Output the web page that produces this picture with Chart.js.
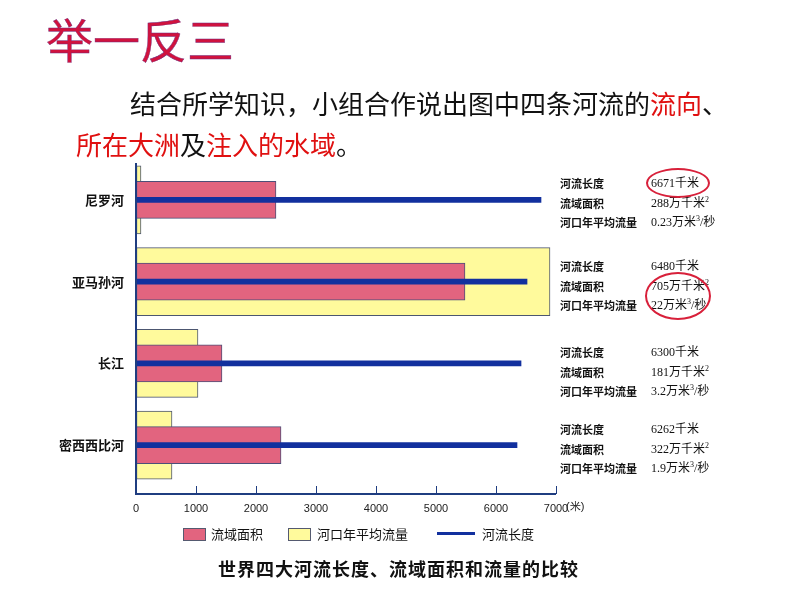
<!DOCTYPE html>
<html>
<head>
<meta charset="utf-8">
<script src="https://cdn.jsdelivr.net/npm/chart.js@4.4.1/dist/chart.umd.min.js"></script>
<style>
  html, body { margin: 0; padding: 0; background: #fff; }
  #wrap { position: relative; width: 794px; height: 596px; overflow: hidden; font-family: "Noto Sans CJK SC", sans-serif; }
  #chart { position: absolute; left: 0; top: 0; }
  .abs { position: absolute; white-space: nowrap; }
  .title { left: 46px; top: 8px; font-size: 47px; line-height: 60px; color: #d0123e; -webkit-text-stroke: 0.4px #6b2c7e; }
  .line { font-size: 26px; line-height: 34px; color: #111; }
  .red { color: #e01010; }
  .info { font-size: 11px; line-height: 16px; font-weight: bold; color: #111; }
  .val { font-family: "Liberation Serif", "Noto Sans CJK SC", serif; font-size: 12px; font-weight: normal; }
  .val sup { font-size: 8px; line-height: 0; }
  .ring { position: absolute; border: 2px solid #d8203a; border-radius: 50%; }
  .legend { font-size: 13px; line-height: 16px; color: #111; }
  .box { position: absolute; border: 1px solid #555a70; box-sizing: border-box; }
  .caption { left: 218px; top: 556px; font-size: 18px; line-height: 24px; font-weight: bold; letter-spacing: 1px; color: #111; }
</style>
</head>
<body>
<div id="wrap">
  <canvas id="chart" width="794" height="596"></canvas>
  <div class="abs title">举一反三</div>
  <div class="abs line" style="left:130px;top:86px;">结合所学知识，小组合作说出图中四条河流的<span class="red">流向</span>、</div>
  <div class="abs line" style="left:76px;top:127px;"><span class="red">所在大洲</span>及<span class="red">注入的水域</span>。</div>
  <div id="notes"></div>
  <div class="ring" style="left:646px;top:168px;width:60px;height:26px;"></div>
  <div class="ring" style="left:645px;top:272px;width:62px;height:44px;"></div>
  <div class="abs" style="left:566px;top:499px;font-family:'Liberation Sans Narrow','Liberation Sans',sans-serif;font-size:11px;line-height:14px;color:#222;">(米)</div>

  <div class="box" style="left:183px;top:528px;width:23px;height:13px;background:#e2647f;"></div>
  <div class="abs legend" style="left:211px;top:526px;">流域面积</div>
  <div class="box" style="left:288px;top:528px;width:23px;height:13px;background:#fffa9c;"></div>
  <div class="abs legend" style="left:317px;top:526px;">河口年平均流量</div>
  <div class="abs" style="left:437px;top:532px;width:38px;height:3px;background:#12309e;"></div>
  <div class="abs legend" style="left:482px;top:526px;">河流长度</div>
  <div class="abs caption">世界四大河流长度、流域面积和流量的比较</div>
</div>
<script>
const rivers = ['尼罗河', '亚马孙河', '长江', '密西西比河'];
const flowBars = [83, 6900, 1033, 600];
const areaBars = [2333, 5483, 1433, 2417];
const lengthBars = [6750, 6517, 6417, 6350];

const lengthText = ['6671', '6480', '6300', '6262'];
const areaText = ['288', '705', '181', '322'];
const flowText = ['0.23', '22', '3.2', '1.9'];

// top of each note block, in page pixels
const noteTops = [175, 258, 344, 421];

const notes = document.getElementById('notes');
rivers.forEach((r, i) => {
  const rows = [
    ['河流长度', `${lengthText[i]}千米`],
    ['流域面积', `${areaText[i]}万千米<sup>2</sup>`],
    ['河口年平均流量', `${flowText[i]}万米<sup>3</sup>/秒`]
  ];
  rows.forEach((row, j) => {
    const top = noteTops[i] + j * 19.5;
    notes.insertAdjacentHTML('beforeend',
      `<div class="abs info" style="left:560px;top:${top}px;">${row[0]}</div>` +
      `<div class="abs info val" style="left:651px;top:${top}px;">${row[1]}</div>`);
  });
});

const axisLines = {
  id: 'axisLines',
  afterDraw(chart) {
    const { ctx, chartArea, scales: { x } } = chart;
    ctx.save();
    ctx.strokeStyle = '#1f3d80';
    ctx.lineWidth = 2;
    ctx.beginPath();
    ctx.moveTo(chartArea.left, chartArea.top + 4);
    ctx.lineTo(chartArea.left, chartArea.bottom + 8);
    ctx.lineTo(x.getPixelForValue(7000), chartArea.bottom + 8);
    ctx.stroke();
    ctx.restore();
  }
};

new Chart(document.getElementById('chart'), {
  type: 'bar',
  data: {
    labels: rivers,
    datasets: [
      {
        label: '河流长度',
        data: lengthBars,
        backgroundColor: '#12309e',
        borderWidth: 0,
        barThickness: 5,
        order: 0
      },
      {
        label: '流域面积',
        data: areaBars,
        backgroundColor: '#e2647f',
        borderColor: '#4c4f78',
        borderWidth: 1,
        borderSkipped: false,
        barThickness: 37,
        order: 1
      },
      {
        label: '河口年平均流量',
        data: flowBars,
        backgroundColor: '#fffa9c',
        borderColor: '#4c5670',
        borderWidth: 1,
        borderSkipped: false,
        barThickness: 68,
        order: 2
      }
    ]
  },
  options: {
    indexAxis: 'y',
    responsive: false,
    animation: false,
    layout: { padding: { top: 159, right: 238, bottom: 80, left: 56 } },
    datasets: { bar: { grouped: false } },
    plugins: {
      legend: { display: false },
      tooltip: { enabled: false }
    },
    scales: {
      x: {
        min: 0,
        max: 7000,
        afterFit: s => { s.height = 30; },
        border: { display: false },
        grid: { drawOnChartArea: false, drawTicks: true, tickLength: 8, color: '#1f3d80', lineWidth: 1 },
        ticks: {
          stepSize: 1000,
          padding: 8,
          color: '#222',
          callback: v => String(v),
          font: { family: "'Liberation Sans Narrow', 'Liberation Sans', sans-serif", size: 11 }
        }
      },
      y: {
        afterFit: s => { s.width = 80; },
        border: { display: false },
        grid: { display: false, drawTicks: false },
        ticks: {
          padding: 12,
          color: '#111',
          font: { family: "'Noto Sans CJK SC', sans-serif", size: 13, weight: 'bold' }
        }
      }
    }
  },
  plugins: [axisLines]
});
</script>
</body>
</html>
